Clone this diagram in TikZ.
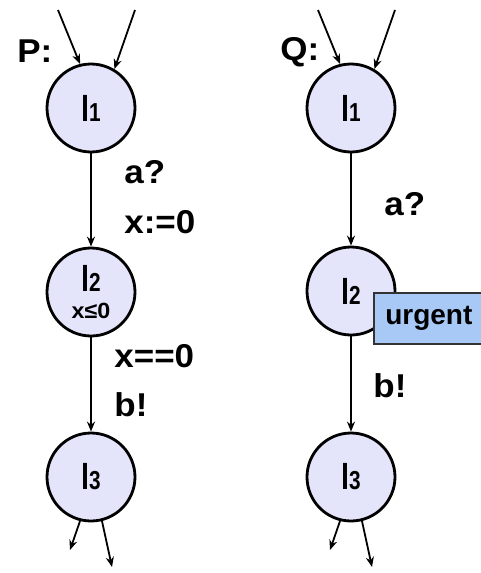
\documentclass[tikz,border=0pt]{standalone}
\usepackage{fontspec}
\setmainfont{Liberation Sans}
\newfontfamily\locfont[FakeStretch=0.8]{Liberation Sans}
\newfontfamily\lblfont[FakeStretch=1.06]{Liberation Sans}
\usetikzlibrary{arrows.meta}
\definecolor{locfill}{RGB}{228,228,250}
\definecolor{urgfill}{RGB}{168,200,245}
\newcommand{\lname}[1]{l{\fontsize{13}{14}\selectfont #1}}
\tikzset{
  loc/.style={circle, draw, line width=1.4pt, fill=locfill, minimum size=44pt, inner sep=0pt,
    font=\locfont\fontsize{18}{20}\selectfont\bfseries},
  lbl/.style={anchor=west, inner sep=0pt, font=\lblfont\fontsize{16.5}{18}\selectfont\bfseries},
  urgbox/.style={draw=black!80, line width=0.8pt, fill=urgfill, anchor=north west,
    minimum width=55pt, minimum height=25.5pt, inner sep=0pt, font=\fontsize{14}{16}\selectfont\bfseries},
  trans/.style={line width=0.9pt, -{Stealth[length=5pt,width=4pt]}}
}
\begin{document}
\begin{tikzpicture}[x=0.5pt,y=-0.5pt]
  \useasboundingbox (0,0) rectangle (481,573);
  % automaton P
  \node[lbl] (pname) at (17,51) {P:};
  \node[loc, align=center] (p1) at (91,108) {\lname{1}};
  \node[loc, align=center] (p2) at (91,292) {\lname{2}\\[-6.5pt]{\lblfont\fontsize{11}{11}\selectfont x≤0}};
  \node[loc] (p3) at (91,477) {\lname{3}};
  \coordinate (pin1) at (58,10);
  \coordinate (pin2) at (135,10);
  \coordinate (pout1) at (70,550);
  \coordinate (pout2) at (112,567);
  \draw[trans] (pin1) -- (p1.104);
  \draw[trans] (pin2) -- (p1.59);
  \draw[trans] (p1) -- (p2);
  \draw[trans] (p2) -- (p3);
  \draw[trans] (p3.256) -- (pout1);
  \draw[trans] (p3.284) -- (pout2);
  \node[lbl] (pa) at (124,172) {a?};
  \node[lbl] (pres) at (124,222) {x:=0};
  \node[lbl] (pguard) at (114,356) {x==0};
  \node[lbl] (pb) at (114,405) {b!};
  % automaton Q
  \node[lbl] (qname) at (280,52) {Q:};
  \node[loc] (q1) at (351,108) {\lname{1}};
  \node[loc] (q2) at (351,291) {\lname{2}};
  \node[loc] (q3) at (351,477) {\lname{3}};
  \coordinate (qin1) at (318,10);
  \coordinate (qin2) at (395,10);
  \coordinate (qout1) at (330,550);
  \coordinate (qout2) at (372,567);
  \draw[trans] (qin1) -- (q1.104);
  \draw[trans] (qin2) -- (q1.59);
  \draw[trans] (q1) -- (q2);
  \draw[trans] (q2) -- (q3);
  \draw[trans] (q3.256) -- (qout1);
  \draw[trans] (q3.284) -- (qout2);
  \node[lbl] (qa) at (384,204) {a?};
  \node[lbl] (qb) at (373,386) {b!};
  \node[urgbox] (urg) at (373,292) {urgent};
\end{tikzpicture}
\end{document}
